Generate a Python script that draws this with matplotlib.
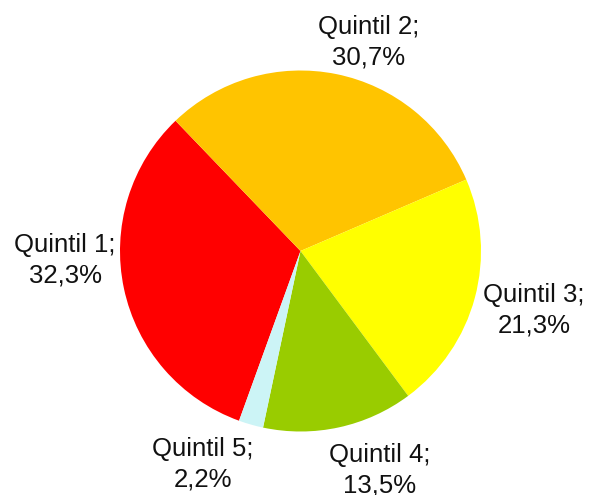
import matplotlib
matplotlib.use("Agg")
import matplotlib.pyplot as plt

# data
categories = ["Quintil 1", "Quintil 2", "Quintil 3", "Quintil 4", "Quintil 5"]
shares = [32.3, 30.7, 21.3, 13.5, 2.2]
colors = ["#FF0000", "#FFC400", "#FFFF00", "#99CC00", "#CCF4F6"]

# label anchor points (pixels from top-left), layout only
label_pos = [(65, 260), (369, 42), (534, 310), (380, 470), (203, 464)]

plt.rcParams["font.family"] = ["Liberation Sans", "DejaVu Sans"]

fig = plt.figure(figsize=(5.9, 4.95), dpi=100)
ax = fig.add_axes([0, 0, 1, 1])

ax.pie(shares, colors=colors, startangle=250.1, counterclock=False,
       center=(300.5, 495 - 251), radius=180.5,
       wedgeprops=dict(linewidth=0))

for name, val, (x, y) in zip(categories, shares, label_pos):
    txt = f"{name};\n{val:.1f}%".replace(".", ",")
    ax.text(x, 495 - y, txt, ha="center", va="center", fontsize=18.5,
            color="#111111", linespacing=1.32)

ax.set_xlim(0, 590)
ax.set_ylim(0, 495)
ax.set_aspect("equal")
ax.axis("off")

fig.savefig("out.png", dpi=100, facecolor="white")
